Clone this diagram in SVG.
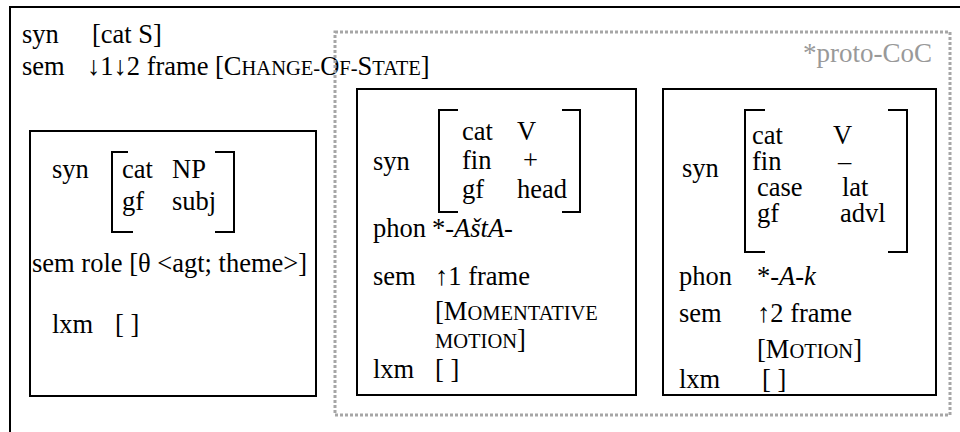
<svg xmlns="http://www.w3.org/2000/svg" width="960" height="432" viewBox="0 0 960 432">
<style>
text{font-family:"Liberation Serif","Times New Roman",serif;font-size:26.5px;fill:#000}
.sc{font-size:20.5px}
.it{font-style:italic}
.box{fill:none;stroke:#000;stroke-width:2}
.br{fill:none;stroke:#000;stroke-width:2}
.dot{fill:none;stroke:#a6a6a6;stroke-width:3;stroke-dasharray:3 2}
.gray{fill:#999;font-size:27px}
</style>
<rect width="960" height="432" fill="#fff"/>
<g id="outer">
<rect class="box" x="10" y="7" width="960" height="440"/>
<text x="22" y="43">syn</text>
<text x="92" y="43">[cat S]</text>
<text x="22" y="75">sem</text>
<text x="87" y="75">↓1↓2 frame [C<tspan class="sc">HANGE-</tspan>O<tspan class="sc">F-</tspan>S<tspan class="sc">TATE</tspan>]</text>
</g>
<g id="proto-coc">
<rect class="dot" x="335" y="32" width="615" height="383"/>
<text class="gray" x="932" y="62" text-anchor="end">*proto-CoC</text>
</g>
<g id="np-node">
<rect class="box" x="30" y="131" width="286" height="265"/>
<text x="52" y="178">syn</text>
<path class="br" d="M128,152H112V232H133M215,152H234V232H215"/>
<text x="122" y="178">cat</text>
<text x="172" y="178">NP</text>
<text x="122" y="210">gf</text>
<text x="172" y="210">subj</text>
<text x="32" y="272">sem role [θ &lt;agt; theme&gt;]</text>
<text x="52" y="333">lxm</text>
<text x="115" y="333">[ ]</text>
</g>
<g id="v-node">
<rect class="box" x="357" y="89" width="279" height="306"/>
<text x="373" y="170">syn</text>
<path class="br" d="M458,110H439V212H458M562,110H580V212H562"/>
<text x="462" y="140">cat</text>
<text x="517" y="140">V</text>
<text x="462" y="169">fin</text>
<text x="523" y="169">+</text>
<text x="462" y="198">gf</text>
<text x="517" y="198">head</text>
<text x="373" y="237">phon</text>
<text x="432" y="237">*<tspan class="it">-AštA-</tspan></text>
<text x="373" y="285">sem</text>
<text x="435" y="285">↑1 frame</text>
<text x="435" y="320">[M<tspan class="sc">OMENTATIVE</tspan></text>
<text x="435" y="348"><tspan class="sc">MOTION</tspan>]</text>
<text x="373" y="378">lxm</text>
<text x="435" y="378">[ ]</text>
</g>
<g id="lat-node">
<rect class="box" x="663" y="89" width="273" height="306"/>
<text x="682" y="177">syn</text>
<path class="br" d="M765,110H745V252H765M888,110H907V252H888"/>
<text x="752" y="144">cat</text>
<text x="833" y="144">V</text>
<text x="752" y="170">fin</text>
<text x="838" y="170">–</text>
<text x="757" y="196">case</text>
<text x="842" y="196">lat</text>
<text x="757" y="222">gf</text>
<text x="840" y="222">advl</text>
<text x="679" y="285">phon</text>
<text x="757" y="285">*<tspan class="it">-A-k</tspan></text>
<text x="679" y="322">sem</text>
<text x="757" y="322">↑2 frame</text>
<text x="757" y="358">[M<tspan class="sc">OTION</tspan>]</text>
<text x="679" y="388">lxm</text>
<text x="762" y="388">[ ]</text>
</g>
<g id="connectors"></g>
</svg>
